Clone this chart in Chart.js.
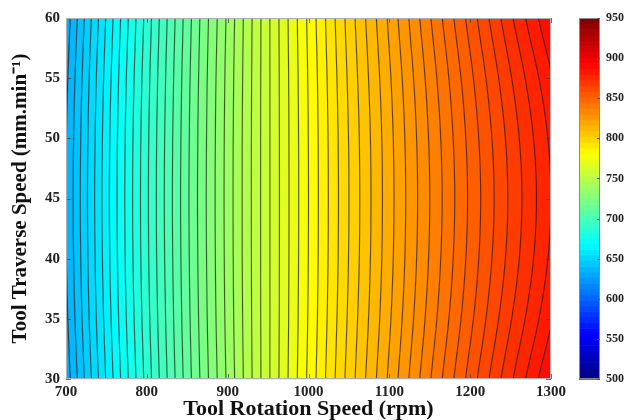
<!DOCTYPE html>
<html>
<head>
<meta charset="utf-8">
<script src="https://cdn.jsdelivr.net/npm/chart.js@4.4.1/dist/chart.umd.min.js"></script>
<style>
  html, body { margin: 0; padding: 0; background: #fff; }
  #wrap { width: 628px; height: 420px; }
</style>
</head>
<body>
<div id="wrap"><canvas id="contour"></canvas></div>
<script>
// grid: tool rotation speed (x) by traverse speed (y)
var rpm = [700, 750, 800, 850, 900, 950, 1000, 1050, 1100, 1150, 1200, 1250, 1300];
var feed = [30, 35, 40, 45, 50, 55, 60];

var z30 = [632.0, 660.5, 687.0, 712.5, 736.0, 759.0, 781.0, 802.0, 821.0, 839.5, 857.0, 874.0, 890.0];
var z35 = [633.7, 661.9, 688.1, 713.3, 736.6, 759.0, 780.4, 800.9, 819.3, 837.0, 853.7, 869.6, 884.4];
var z40 = [634.7, 662.7, 688.8, 713.8, 736.9, 759.0, 780.1, 800.2, 818.3, 835.5, 851.7, 866.9, 881.1];
var z45 = [635.0, 663.0, 689.0, 714.0, 737.0, 759.0, 780.0, 800.0, 818.0, 835.0, 851.0, 866.0, 880.0];
var z50 = [634.7, 662.7, 688.8, 713.8, 736.9, 759.0, 780.1, 800.2, 818.3, 835.5, 851.7, 866.9, 881.1];
var z55 = [633.7, 661.9, 688.1, 713.3, 736.6, 759.0, 780.4, 800.9, 819.3, 837.0, 853.7, 869.6, 884.4];
var z60 = [632.0, 660.5, 687.0, 712.5, 736.0, 759.0, 781.0, 802.0, 821.0, 839.5, 857.0, 874.0, 890.0];

var xTicks = [700, 800, 900, 1000, 1100, 1200, 1300];
var yTicks = [30, 35, 40, 45, 50, 55, 60];
var cbTicks = [500, 550, 600, 650, 700, 750, 800, 850, 900, 950];
var levelStep = 5;

var rows = [z30, z35, z40, z45, z50, z55, z60];
var serif = '"Liberation Serif", "Times New Roman", serif';

function jet(t) {
    t = Math.max(0, Math.min(1, t));
    var c = function (v) { return Math.max(0, Math.min(1, v)); };
    return [
        Math.round(255 * c(1.5 - Math.abs(4 * t - 3))),
        Math.round(255 * c(1.5 - Math.abs(4 * t - 2))),
        Math.round(255 * c(1.5 - Math.abs(4 * t - 1)))
    ];
}

function pick(arr, i) {
    var n = arr.length;
    if (i < 0) return 2 * arr[0] - arr[1];
    if (i >= n) return 2 * arr[n - 1] - arr[n - 2];
    return arr[i];
}

function cr(p0, p1, p2, p3, t) {
    return 0.5 * (2 * p1 + (-p0 + p2) * t + (2 * p0 - 5 * p1 + 4 * p2 - p3) * t * t +
        (-p0 + 3 * p1 - 3 * p2 + p3) * t * t * t);
}

function locate(axis, v) {
    var i = 0;
    while (i < axis.length - 2 && v > axis[i + 1]) i++;
    return [i, (v - axis[i]) / (axis[i + 1] - axis[i])];
}

function valueAt(xv, yv) {
    var lx = locate(rpm, xv), i = lx[0], u = lx[1];
    var col = [];
    for (var j = 0; j < rows.length; j++) {
        var r = rows[j];
        col.push(cr(pick(r, i - 1), pick(r, i), pick(r, i + 1), pick(r, i + 2), u));
    }
    var ly = locate(feed, yv), k = ly[0], w = ly[1];
    return cr(pick(col, k - 1), pick(col, k), pick(col, k + 1), pick(col, k + 2), w);
}

var contourPlugin = {
    id: 'contourFill',
    beforeDatasetsDraw: function (chart) {
        var a = chart.chartArea, xs = chart.scales.x, ys = chart.scales.y, cs = chart.scales.cb;
        var W = Math.round(a.right - a.left), H = Math.round(a.bottom - a.top);
        var vals = new Float32Array(W * H);
        for (var py = 0; py < H; py++) {
            var yv = ys.getValueForPixel(a.top + py + 0.5);
            for (var px = 0; px < W; px++) {
                vals[py * W + px] = valueAt(xs.getValueForPixel(a.left + px + 0.5), yv);
            }
        }
        var off = document.createElement('canvas');
        off.width = W; off.height = H;
        var octx = off.getContext('2d');
        var img = octx.createImageData(W, H);
        var lo = cs.min, hi = cs.max;
        for (py = 0; py < H; py++) {
            for (px = 0; px < W; px++) {
                var idx = py * W + px, v = vals[idx];
                var band = (Math.floor(v / levelStep) + 0.5) * levelStep;
                var col = jet((band - lo) / (hi - lo));
                var gx = px < W - 1 ? vals[idx + 1] - v : v - vals[idx - 1];
                var gy = py < H - 1 ? vals[idx + W] - v : v - vals[idx - W];
                var g = Math.sqrt(gx * gx + gy * gy) / levelStep + 1e-6;
                var d = Math.abs(v / levelStep - Math.round(v / levelStep)) / g;
                var al = 0.72 * Math.max(0, 1 - d / 1.1);
                img.data[idx * 4] = col[0] * (1 - al) + 25 * al;
                img.data[idx * 4 + 1] = col[1] * (1 - al) + 20 * al;
                img.data[idx * 4 + 2] = col[2] * (1 - al) + 10 * al;
                img.data[idx * 4 + 3] = 255;
            }
        }
        octx.putImageData(img, 0, 0);
        chart.ctx.drawImage(off, a.left, a.top);

        // colour bar
        var ctx = chart.ctx;
        var bx = a.right + 28, bw = 21, n = 64;
        for (var s = 0; s < n; s++) {
            var c = jet((s + 0.5) / n);
            var y0 = cs.getPixelForValue(lo + (hi - lo) * s / n);
            var y1 = cs.getPixelForValue(lo + (hi - lo) * (s + 1) / n);
            ctx.fillStyle = 'rgb(' + c[0] + ',' + c[1] + ',' + c[2] + ')';
            ctx.fillRect(bx, y1, bw, y0 - y1 + 0.6);
        }
        ctx.strokeStyle = '#8a8a8a';
        ctx.lineWidth = 1;
        ctx.strokeRect(bx + 0.5, a.top + 0.5, bw - 1, a.bottom - a.top - 1);
        ctx.strokeStyle = '#555';
        cbTicks.forEach(function (t) {
            var y = Math.round(cs.getPixelForValue(t)) + 0.5;
            ctx.beginPath();
            ctx.moveTo(bx + bw - 3, y); ctx.lineTo(bx + bw, y);
            ctx.stroke();
        });
    },
    afterDatasetsDraw: function (chart) {
        var a = chart.chartArea, xs = chart.scales.x, ys = chart.scales.y, ctx = chart.ctx;
        ctx.save();
        ctx.strokeStyle = 'rgba(60,60,60,0.7)';
        ctx.lineWidth = 1;
        xTicks.forEach(function (t) {
            var x = Math.round(xs.getPixelForValue(t)) + 0.5;
            ctx.beginPath();
            ctx.moveTo(x, a.bottom); ctx.lineTo(x, a.bottom - 5);
            ctx.moveTo(x, a.top); ctx.lineTo(x, a.top + 5);
            ctx.stroke();
        });
        yTicks.forEach(function (t) {
            var y = Math.round(ys.getPixelForValue(t)) + 0.5;
            ctx.beginPath();
            ctx.moveTo(a.left, y); ctx.lineTo(a.left + 5, y);
            ctx.moveTo(a.right, y); ctx.lineTo(a.right - 5, y);
            ctx.stroke();
        });
        ctx.strokeStyle = '#a9b0b8';
        ctx.strokeRect(a.left + 0.5, a.top + 0.5, a.right - a.left - 1, a.bottom - a.top - 1);
        ctx.restore();
    }
};

var gridNodes = [];
feed.forEach(function (f) {
    rpm.forEach(function (r) { gridNodes.push({x: r, y: f}); });
});

function plain(v) { return String(v); }

new Chart(document.getElementById('contour'), {
    type: 'scatter',
    data: {
        datasets: [{ data: gridNodes, pointRadius: 0, showLine: false }]
    },
    plugins: [contourPlugin],
    options: {
        responsive: true,
        maintainAspectRatio: false,
        animation: false,
        events: [],
        layout: { padding: { top: 18, left: 0, right: 0, bottom: 0 } },
        plugins: { legend: { display: false }, tooltip: { enabled: false } },
        scales: {
            x: {
                type: 'linear', min: 700, max: 1300, z: 1,
                afterBuildTicks: function (s) { s.ticks = xTicks.map(function (v) { return {value: v}; }); },
                afterFit: function (s) { s.height = 41; s.paddingLeft = 0; s.paddingRight = 0; },
                grid: { color: 'rgba(80,80,80,0.12)', drawTicks: false },
                border: { display: false },
                ticks: { padding: 4, color: '#222', callback: plain, maxRotation: 0,
                    font: { family: serif, size: 15, weight: 'bold' } },
                title: { display: true, text: 'Tool Rotation Speed (rpm)', color: '#111',
                    font: { family: serif, size: 22, weight: 'bold', lineHeight: 1 }, padding: { top: 0, bottom: 0 } }
            },
            y: {
                type: 'linear', min: 30, max: 60, z: 1,
                afterBuildTicks: function (s) { s.ticks = yTicks.map(function (v) { return {value: v}; }); },
                afterFit: function (s) { s.width = 66; s.paddingTop = 0; s.paddingBottom = 0; },
                grid: { color: 'rgba(80,80,80,0.12)', drawTicks: false },
                border: { display: false },
                ticks: { padding: 6, color: '#222', callback: plain,
                    font: { family: serif, size: 15, weight: 'bold' } },
                title: { display: true, text: 'Tool Traverse Speed (mm.min\u207B\u00B9)', color: '#111',
                    font: { family: serif, size: 21, weight: 'bold', lineHeight: 1 }, padding: { top: 10, bottom: 0 } }
            },
            cb: {
                type: 'linear', position: 'right', min: 500, max: 950,
                afterBuildTicks: function (s) { s.ticks = cbTicks.map(function (v) { return {value: v}; }); },
                afterFit: function (s) { s.width = 77; s.paddingTop = 0; s.paddingBottom = 0; },
                grid: { display: false, drawTicks: false },
                border: { display: false },
                ticks: { padding: 55, color: '#222', callback: plain,
                    font: { family: serif, size: 12, weight: 'bold' } }
            }
        }
    }
});
</script>
</body>
</html>
